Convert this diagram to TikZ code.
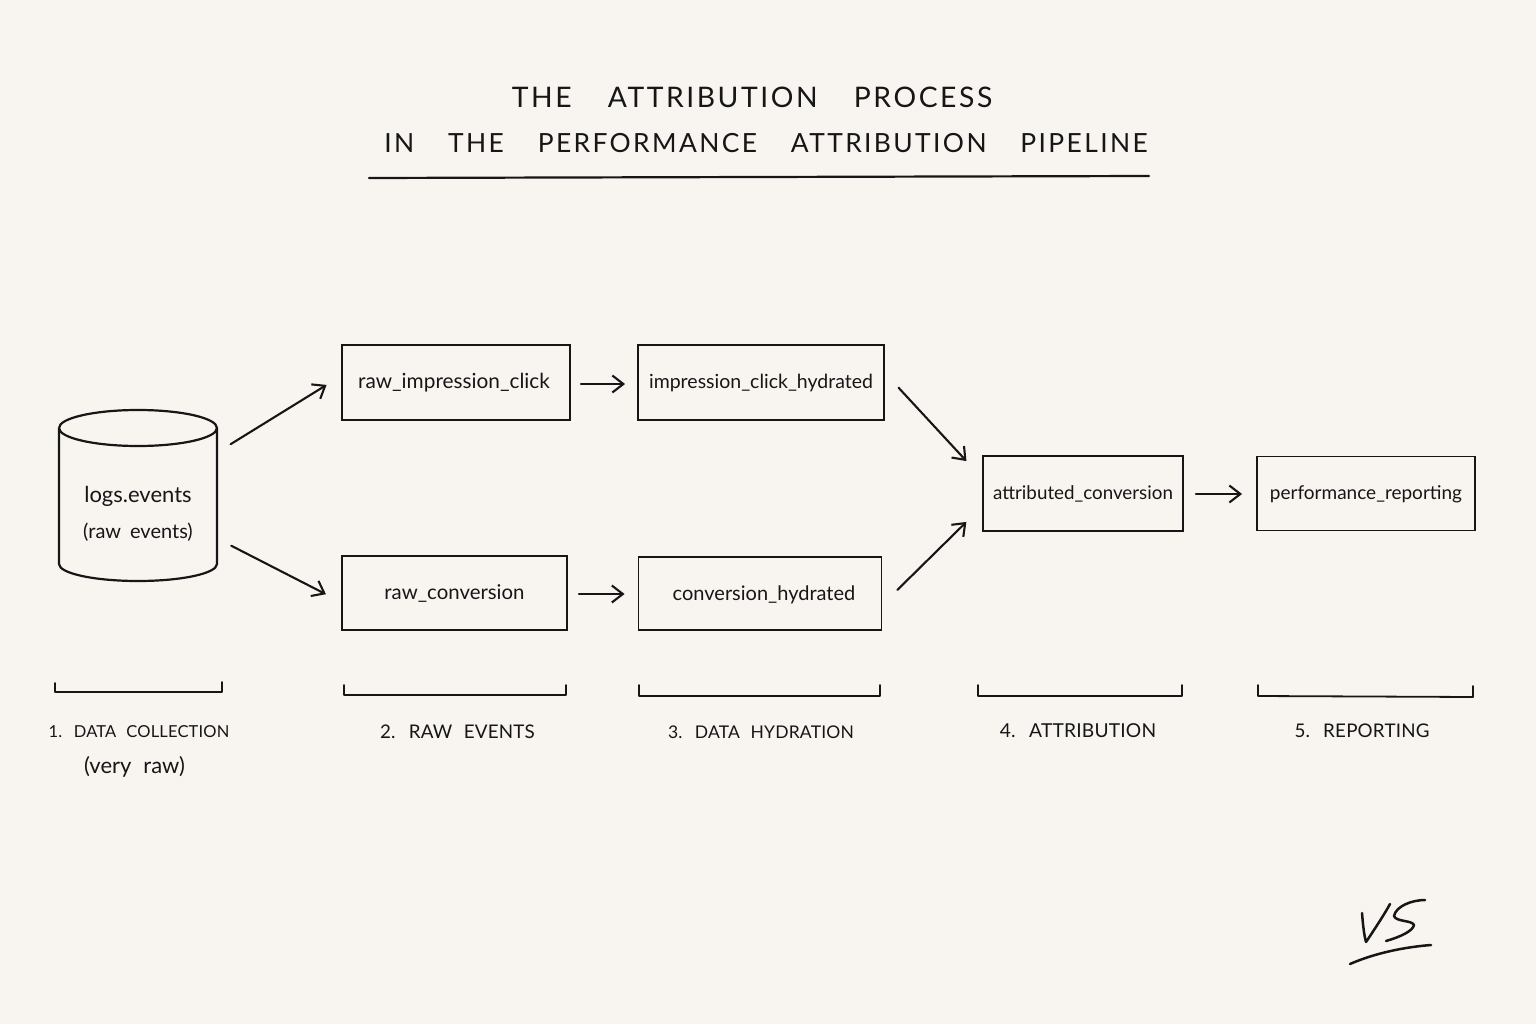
\documentclass[tikz,border=0pt]{standalone}
\usepackage{fontspec}
\setmainfont{Lato}
\newfontfamily\titlefont[LetterSpace=9,WordSpace=3.7]{Lato}
\newfontfamily\capfont[LetterSpace=1,WordSpace=2.3]{Lato}
\usetikzlibrary{arrows.meta,calc}
\definecolor{paper}{HTML}{F8F5F1}
\definecolor{ink}{HTML}{161616}
\tikzset{
  table/.style={draw=ink,line width=1.9pt,rectangle,inner sep=0pt,font=\fontsize{#1}{24}\selectfont,text=ink},
  link/.style={draw=ink,line width=2.1pt,line cap=round,-{Straight Barb[length=11pt,width=17pt,line width=2.1pt]}},
  brace/.style={draw=ink,line width=1.8pt,line cap=round,line join=round},
  steplabel/.style={font=\capfont\fontsize{#1}{24}\selectfont,text=ink,align=center,inner sep=0pt},
  plaintext/.style={inner sep=0pt,text=ink,align=center},
  sign/.style={draw=ink,line width=2.5pt,line cap=round,line join=round},
}
\begin{document}
\begin{tikzpicture}[x=1pt,y=-1pt]
\useasboundingbox (0,0) rectangle (1536,1024);
\fill[paper] (0,0) rectangle (1536,1024);

% title
\node[plaintext,font=\titlefont\fontsize{28.3}{36}\selectfont] (title1) at (752,97) {THE ATTRIBUTION PROCESS};
\node[plaintext,font=\titlefont\fontsize{26.4}{36}\selectfont] (title2) at (766,143) {IN THE PERFORMANCE ATTRIBUTION PIPELINE};
\coordinate (ruleL) at (369,178);
\coordinate (ruleR) at (1149,176);
\draw[ink,line width=2.2pt,line cap=round] (ruleL) -- (ruleR);

% database
\node[minimum width=158pt,minimum height=171pt,inner sep=0pt] (db) at (138,495.5) {};
\draw[ink,line width=2.2pt]
  (59,428) arc[x radius=79,y radius=18,start angle=-180,end angle=180]
  (59,428) -- (59,564) arc[x radius=79,y radius=17,start angle=-180,end angle=-360] -- (217,428);
\node[plaintext,font=\fontsize{22}{24}\selectfont] (dbname) at (138,496) {logs.events};
\node[plaintext,font=\fontsize{20}{24}\selectfont] (dbnote) at (138,532) {(raw\hspace{9pt}events)};

% tables
\node[table=20.8,minimum width=228pt,minimum height=75pt] (ric) at (456,382.5) {raw\_impression\_click\hspace*{4pt}};
\node[table=19.5,minimum width=246pt,minimum height=75pt] (ich) at (761,382.5) {impression\_click\_hydrated};
\node[table=20.4,minimum width=225pt,minimum height=74pt,text height=17pt,text depth=5pt] (rc) at (454.5,593) {raw\_conversion};
\node[table=20,minimum width=243pt,minimum height=73pt,text height=18pt,text depth=4pt] (ch) at (760,593.5) {\hspace*{8pt}conversion\_hydrated};
\node[table=18.8,minimum width=200pt,minimum height=75pt] (ac) at (1083,493.5) {attributed\_conversion};
\node[table=19,minimum width=218pt,minimum height=74pt,text height=16pt,text depth=5pt] (pr) at (1366,493.5) {performance\_reporting};

% connectors
\coordinate (dbA) at (217,452.6);
\coordinate (dbB) at (217,538.4);
\draw[link,shorten <=16pt,shorten >=17pt] (dbA) -- (ric.west |- 0,376);
\draw[link,shorten <=16pt,shorten >=17pt] (dbB) -- (rc.west |- 0,602);
\draw[link,shorten <=10pt,shorten >=12pt] (ric.east |- 0,384) -- (ich.west |- 0,384);
\draw[link,shorten <=11pt,shorten >=13pt] (rc.east |- 0,594) -- (ch.west |- 0,594);
\draw[link,shorten <=20pt,shorten >=23pt] (ich.east |- 0,373) -- (ac.west |- 0,478);
\draw[link,shorten <=21pt,shorten >=22pt] (ch.east |- 0,604.6) -- (ac.west |- 0,506.5);
\draw[link,shorten <=12pt,shorten >=14pt] (ac.east |- 0,494) -- (pr.west |- 0,494);

% step brackets
\draw[brace] (55,683) -- (55,692) -- (222,692) -- (222,682);
\draw[brace] (344,685) -- (344,695) -- (566,695) -- (566,685);
\draw[brace] (639,685) -- (639,696) -- (880,696) -- (880,685);
\draw[brace] (978,685) -- (978,696) -- (1182,696) -- (1182,685);
\draw[brace] (1258,685) -- (1258,696) -- (1473,697) -- (1473,686);

% step labels
\node[steplabel=16.5] (s1) at (139,732) {1. DATA COLLECTION};
\node[plaintext,font=\fontsize{22}{24}\selectfont] (s1b) at (134.5,767) {(very\hspace{12pt}raw)};
\node[steplabel=18.8] (s2) at (457.5,732) {2. RAW EVENTS};
\node[steplabel=17.5] (s3) at (761,732) {3. DATA HYDRATION};
\node[steplabel=19.2] (s4) at (1078,731) {4. ATTRIBUTION};
\node[steplabel=18.8] (s5) at (1362,731) {5. REPORTING};

% signature
\draw[sign]
  (1362,913) .. controls (1363,925) and (1364,935) .. (1366,942) .. controls (1374,930) and (1384,915) .. (1390,904);
\draw[sign]
  (1425,900) .. controls (1412,900) and (1396,906) .. (1394,916) .. controls (1396,922) and (1412,920) .. (1414,925) .. controls (1413,931) and (1400,937) .. (1386,941);
\draw[sign] (1350,964) .. controls (1375,953) and (1405,947) .. (1431,945);
\end{tikzpicture}
\end{document}
